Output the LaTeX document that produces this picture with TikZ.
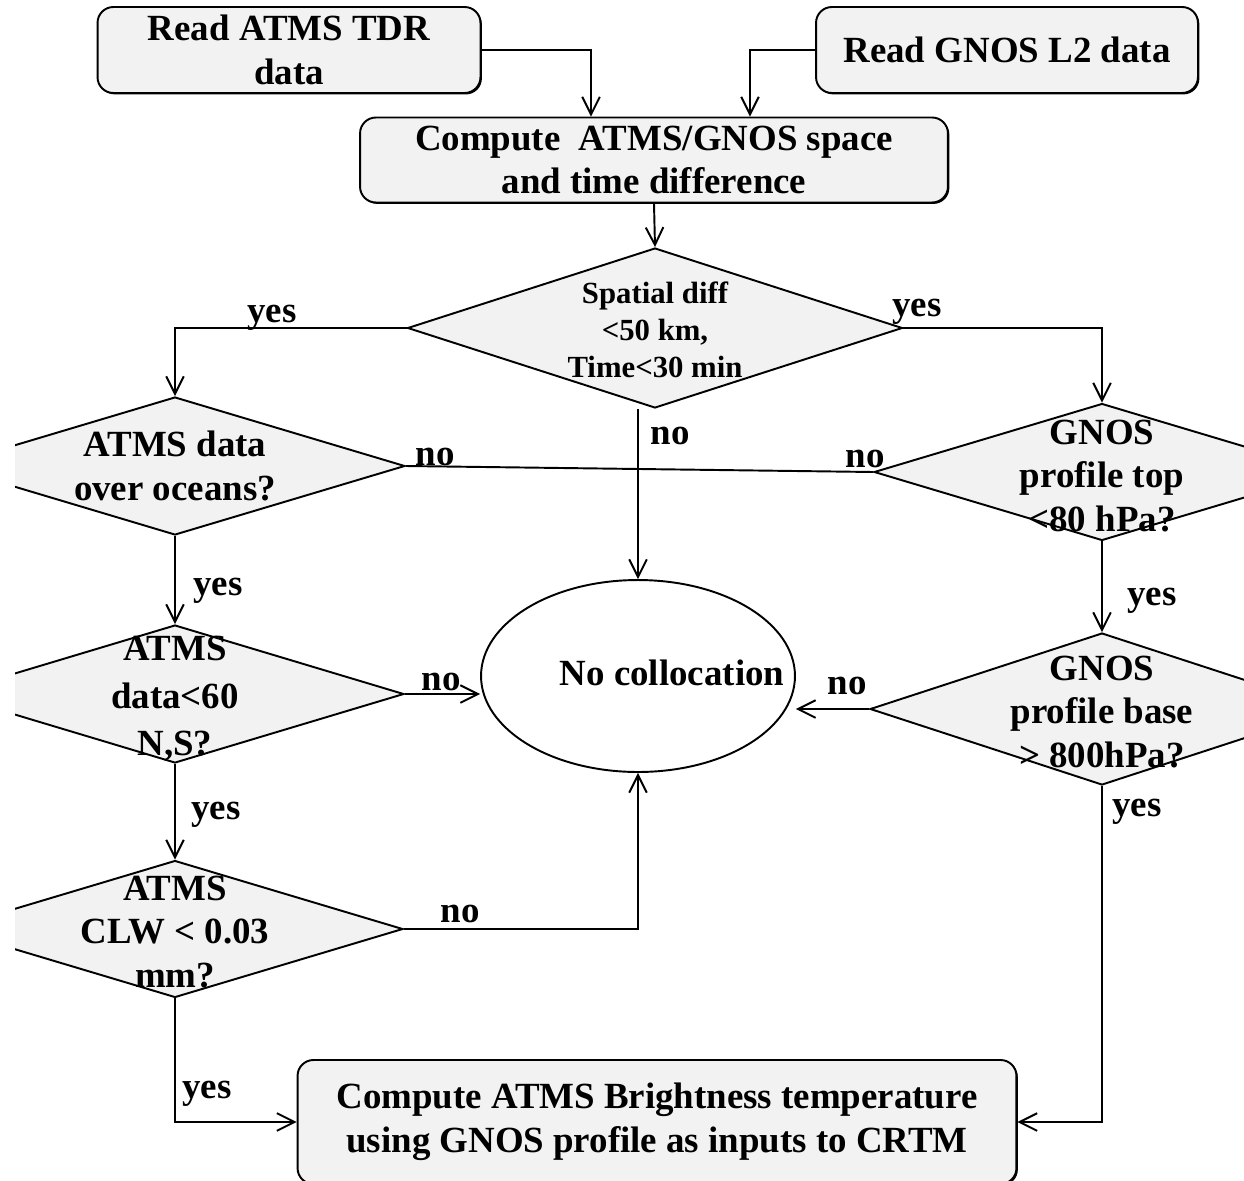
\documentclass[tikz,border=0pt]{standalone}
\usepackage{fontspec}
\setmainfont{Liberation Serif}
\definecolor{boxgray}{RGB}{242, 242, 242}
\usetikzlibrary{shapes, arrows.meta, positioning, calc, shadows}

\begin{document}
\begin{tikzpicture}[x=0.02cm, y=-0.02cm, line width=1.1pt,
  txt/.style={font=\fontsize{21}{25}\selectfont\bfseries, align=center, inner sep=0pt},
  box/.style={draw, fill=boxgray, rounded corners=9pt, txt,
    drop shadow={shadow xshift=0.8pt, shadow yshift=-0.8pt, fill=black, opacity=1}},
  decision/.style={draw, fill=boxgray, diamond, inner sep=0pt},
  arr/.style={-{Straight Barb[length=10pt, width=10pt]}},
]
\useasboundingbox (0,0) rectangle (1244,1180);
\clip (15,0) rectangle (1244,1180);

% Input and matching boxes
\node[box, minimum width=7.66cm, minimum height=1.72cm] (tdr) at (289,50)
{Read ATMS TDR\\data};
\node[box, minimum width=7.64cm, minimum height=1.72cm] (gnos) at (1007,50)
{Read GNOS L2 data};
\node[box, minimum width=11.76cm, minimum height=1.7cm] (diff) at (654,160)
{Compute\ \ ATMS/GNOS space\\and time difference};

% Decisions
\node[decision, minimum width=9.9cm, minimum height=3.2cm,
  label={[txt, font=\fontsize{17.5}{21}\selectfont\bfseries, yshift=-0.04cm]center:{Spatial diff\\<50 km,\\Time<30 min}}]
  (space) at (655,328) {};
\node[decision, minimum width=9.2cm, minimum height=2.76cm,
  label={[txt]center:{ATMS data\\over oceans?}}] (ocean) at (175,466) {};
\node[decision, minimum width=9.12cm, minimum height=2.74cm,
  label={[txt, yshift=-0.08cm]center:{GNOS\\profile top\\<80 hPa?}}] (top) at (1102,472) {};
\node[decision, minimum width=9.16cm, minimum height=2.76cm,
  label={[txt, font=\fontsize{21}{27}\selectfont\bfseries, yshift=-0.1cm]center:{ATMS\\data<60\\N,S?}}] (lat) at (175,694) {};
\node[decision, minimum width=9.12cm, minimum height=2.74cm,
  label={[txt, yshift=-0.06cm]center:{ATMS\\CLW < 0.03\\mm?}}] (clw) at (175,929) {};
\node[decision, minimum width=9.28cm, minimum height=3.04cm,
  label={[txt, yshift=-0.06cm]center:{GNOS\\profile base\\> 800hPa?}}] (base) at (1102,709) {};

% Outcomes
\node[draw, ellipse, minimum width=6.28cm, minimum height=3.84cm, inner sep=0pt,
  label={[txt, xshift=0.68cm, yshift=0.06cm]center:No collocation}] (nocol) at (638,676) {};
\node[box, minimum width=14.38cm, minimum height=2.48cm] (crtm) at (657,1122)
{Compute ATMS Brightness temperature\\using GNOS profile as inputs to CRTM};

% Connectors
\draw[arr] (tdr.east) -| ([xshift=-1.26cm]diff.north);
\draw[arr] (gnos.west) -| ([xshift=1.92cm]diff.north);
\draw[arr] (diff.south) -- (space.north);
\draw[arr] (space.west) -| (ocean.north);
\draw[arr] (space.east) -| (top.north);
\draw[arr] (space.south -| nocol.north) -- (nocol.north);
\draw (ocean.east) -- (top.west);
\draw[arr] (ocean.south) -- (lat.north);
\draw[arr] (lat.east) -- (lat.east -| nocol.west);
\draw[arr] (lat.south) -- (clw.north);
\draw[arr] (clw.east) -| (nocol.south);
\draw[arr] (clw.south) |- (crtm.west);
\draw[arr] (top.south) -- (base.north);
\draw[arr] (base.west) -- (base.west -| nocol.east);
\draw[arr] (base.south) |- (crtm.east);

% yes / no labels
\node[txt] (yesA) at (272,318) {yes};
\node[txt] (yesB) at (917,312) {yes};
\node[txt] (noA) at (670,436) {no};
\node[txt] (noB) at (435,457) {no};
\node[txt] (noC) at (865,459) {no};
\node[txt] (yesC) at (218,591) {yes};
\node[txt] (yesD) at (1152,601) {yes};
\node[txt] (noD) at (441,682) {no};
\node[txt] (noE) at (847,686) {no};
\node[txt] (yesE) at (216,815) {yes};
\node[txt] (yesF) at (1137,812) {yes};
\node[txt] (noF) at (460,914) {no};
\node[txt] (yesG) at (207,1094) {yes};
\end{tikzpicture}
\end{document}
